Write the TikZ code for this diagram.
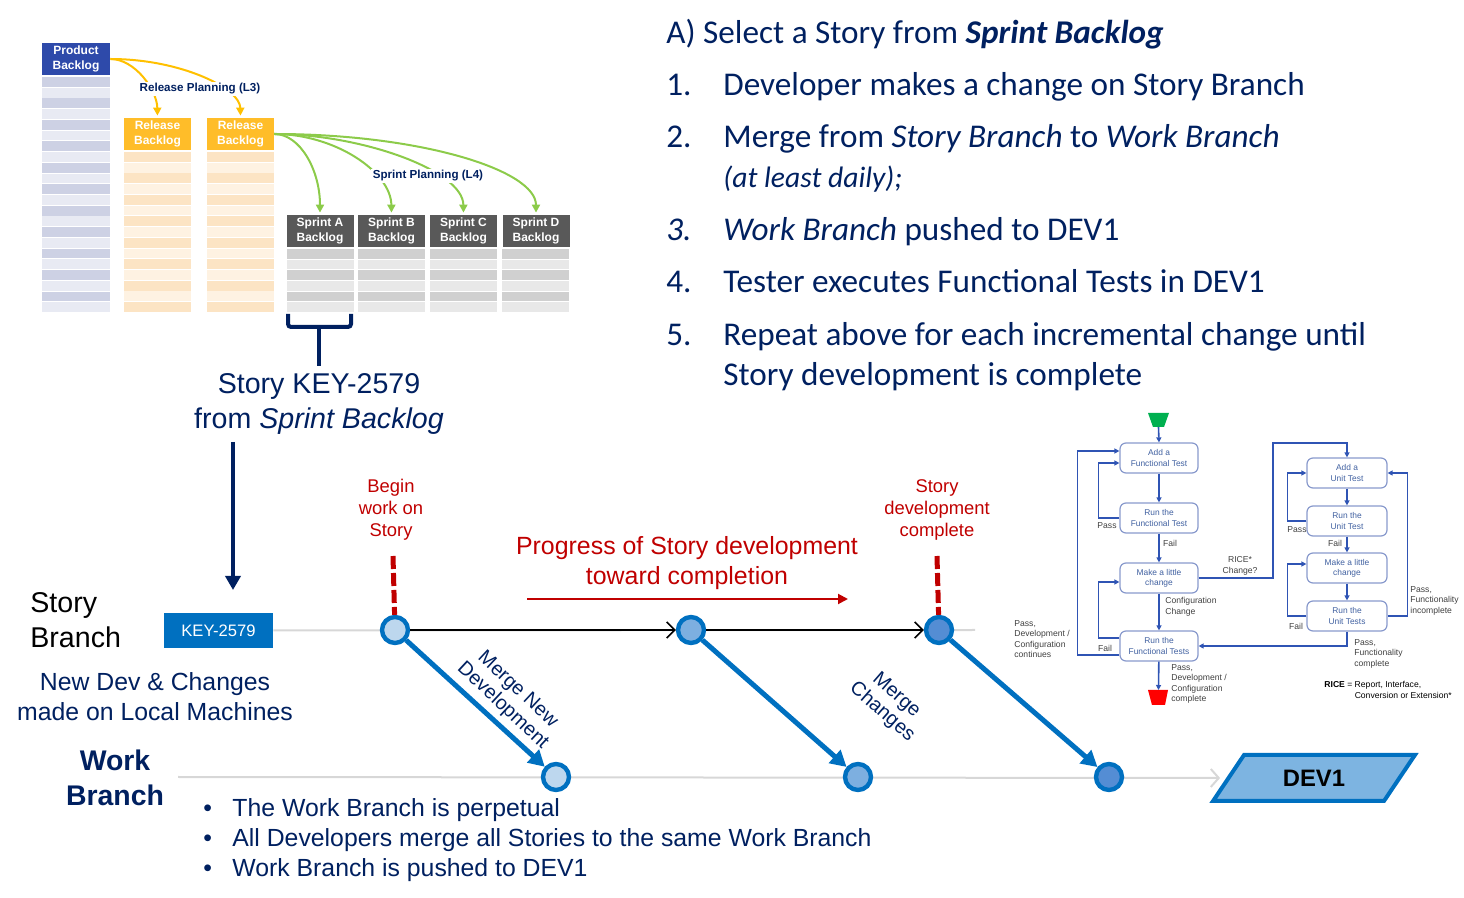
\documentclass[tikz,border=0pt]{standalone}
\usepackage{fontspec}
\setmainfont{Liberation Sans}
\newfontfamily\calibri{Carlito}
\usetikzlibrary{arrows.meta,calc,positioning,shapes.geometric}

\definecolor{navy}{RGB}{0,32,96}
\definecolor{darkred}{RGB}{192,0,0}
\definecolor{midblue}{RGB}{0,112,192}
\definecolor{pbblue}{RGB}{46,74,170}
\definecolor{pbdark}{RGB}{205,209,228}
\definecolor{pblight}{RGB}{232,234,243}
\definecolor{rbgold}{RGB}{255,189,41}
\definecolor{rbdark}{RGB}{252,228,196}
\definecolor{rblight}{RGB}{254,242,226}
\definecolor{sbgray}{RGB}{89,89,89}
\definecolor{sbdark}{RGB}{208,208,208}
\definecolor{sblight}{RGB}{232,232,232}
\definecolor{planyellow}{RGB}{255,192,0}
\definecolor{plangreen}{RGB}{140,203,74}
\definecolor{branchgray}{RGB}{215,215,215}
\definecolor{cone}{RGB}{189,215,238}
\definecolor{ctwo}{RGB}{125,175,224}
\definecolor{cthree}{RGB}{84,141,212}
\definecolor{devfill}{RGB}{125,180,225}
\definecolor{flowblue}{RGB}{47,84,180}
\definecolor{flowedge}{RGB}{136,153,204}
\definecolor{flowtext}{RGB}{64,96,160}
\definecolor{labelgray}{RGB}{64,64,64}
\definecolor{startgreen}{RGB}{0,176,80}

\newcommand{\fsz}[2]{\fontsize{#1}{#2}\selectfont}

\tikzset{
  backloghead/.style={minimum width=33.5pt, minimum height=16pt, inner sep=0pt,
    text=white, align=center, font=\fsz{6}{7.4}\bfseries},
  planlabel/.style={fill=white, inner sep=1pt, text=navy, font=\fsz{5.8}{6}\bfseries},
  planarrow/.style={line width=1pt, shorten >=1pt, -{Triangle[length=4pt,width=4pt]}},
  commit/.style={circle, draw=midblue, line width=2.2pt, minimum size=13pt, inner sep=0pt},
  mergearrow/.style={midblue, line width=2.5pt, -{Triangle[length=8pt,width=8.5pt]}},
  steparrow/.style={black, line width=0.8pt, -{Straight Barb[length=4pt,width=8pt]}},
  branchline/.style={branchgray, line width=1pt},
  reddash/.style={darkred, line width=2.5pt, dash pattern=on 6.5pt off 2pt},
  redlabel/.style={text=darkred, align=center, font=\fsz{9.2}{11}},
  mergelabel/.style={text=navy, align=center, font=\fsz{9.9}{11}},
  stepline/.style={anchor=base west, inner sep=0pt, text=navy, font=\calibri\fsz{16.6}{18}},
  flowbox/.style={rectangle, rounded corners=3pt, draw=flowedge, line width=0.6pt,
    minimum width=39pt, minimum height=15pt, inner sep=0pt, text=flowtext,
    align=center, font=\fsz{4.2}{5.1}},
  flowarrow/.style={flowblue, line width=0.8pt, -{Triangle[length=2.5pt,width=2.5pt]}},
  flowlabel/.style={text=labelgray, align=left, inner sep=0pt, font=\fsz{4.3}{5.25}},
}

\begin{document}
\begin{tikzpicture}[x=0.5pt, y=-0.5pt]
  \useasboundingbox (0,0) rectangle (1464,898);

  % Product backlog
  \node[backloghead, fill=pbblue, minimum width=34pt] (pb) at (76,59) {Product\\Backlog};
  \foreach \i in {0,...,21} {
    \pgfmathsetmacro{\yy}{77+\i*10.73}
    \pgfmathtruncatemacro{\odd}{mod(\i,2)}
    \ifnum\odd=0 \def\col{pbdark}\else\def\col{pblight}\fi
    \fill[\col] (42,\yy) rectangle (110,\yy+9.8);
  }

  % Release backlogs
  \node[backloghead, fill=rbgold] (rb1) at (157.5,134) {Release\\Backlog};
  \node[backloghead, fill=rbgold] (rb2) at (240.5,134) {Release\\Backlog};
  \foreach \x in {124,207} {
    \foreach \i in {0,...,14} {
      \pgfmathsetmacro{\yy}{152+\i*10.73}
      \pgfmathtruncatemacro{\odd}{mod(\i,2)}
      \ifnum\odd=0 \def\col{rbdark}\else\def\col{rblight}\fi
      \fill[\col] (\x,\yy) rectangle (\x+67,\yy+9.8);
    }
  }

  % Sprint backlogs
  \node[backloghead, fill=sbgray] (sba) at (320,231) {Sprint A\\Backlog};
  \node[backloghead, fill=sbgray] (sbb) at (391.5,231) {Sprint B\\Backlog};
  \node[backloghead, fill=sbgray] (sbc) at (463.5,231) {Sprint C\\Backlog};
  \node[backloghead, fill=sbgray] (sbd) at (536,231) {Sprint D\\Backlog};
  \foreach \x in {287,358,430,502} {
    \foreach \i in {0,...,5} {
      \pgfmathsetmacro{\yy}{249+\i*10.67}
      \pgfmathtruncatemacro{\odd}{mod(\i,2)}
      \ifnum\odd=0 \def\col{sbdark}\else\def\col{sblight}\fi
      \fill[\col] (\x,\yy) rectangle (\x+67,\yy+9.8);
    }
  }

  % Release planning (L3)
  \draw[planarrow, planyellow] (pb.east) .. controls (135,59) and (157,90) .. (rb1.north);
  \draw[planarrow, planyellow] (pb.east) .. controls (180,59) and (240,88) .. (rb2.north);
  \node[planlabel] (rplan) at (200,89) {Release Planning (L3)};

  % Sprint planning (L4)
  \draw[planarrow, plangreen] (rb2.east) .. controls (300,134) and (320,170) .. (sba.north);
  \draw[planarrow, plangreen] (rb2.east) .. controls (335,134) and (391,172) .. (sbb.north);
  \draw[planarrow, plangreen] (rb2.east) .. controls (360,134) and (463,170) .. (sbc.north);
  \draw[planarrow, plangreen] (rb2.east) .. controls (420,134) and (536,170) .. (sbd.north);
  \node[planlabel] (splan) at (428,176) {Sprint Planning (L4)};

  % Selected story
  \node[text=navy, align=center, font=\fsz{14.3}{17.5}] (story) at (319,403.5)
    {Story KEY-2579\\from \textit{Sprint Backlog}};
  \draw[navy, line width=2pt, rounded corners=1.5pt] (288,314) -- (288,327) -- (351,327) -- (351,314);
  \coordinate (bracetip) at (319,327);
  \draw[navy, line width=2pt] (bracetip) -- (story.north);
  \coordinate (storyout) at (233,442);
  \coordinate (keyin) at (233,590);
  \draw[navy, line width=2pt, -{Triangle[length=7pt,width=7.5pt]}] (storyout) -- (keyin);

  % Branch labels
  \node[anchor=west, align=left, inner sep=0pt, font=\fsz{14.3}{17.5}] (sblabel) at (30,620) {Story\\Branch};
  \node[text=navy, align=center, font=\fsz{12.4}{15}] (localdev) at (155,697)
    {New Dev \& Changes\\made on Local Machines};
  \node[text=navy, align=center, font=\fsz{14.2}{17.5}\bfseries] (wblabel) at (115,778) {Work\\Branch};
  \node[fill=midblue, text=white, minimum width=54.5pt, minimum height=17.5pt, inner sep=0pt,
    font=\fsz{8.3}{10}] (keybox) at (218.5,630.5) {KEY-2579};

  % DEV1
  \node[trapezium, trapezium left angle=50, trapezium right angle=130, trapezium stretches=true,
    draw=midblue, fill=devfill, line width=2pt, minimum width=101pt, minimum height=23pt,
    inner sep=0pt, font=\fsz{11.9}{12}\bfseries] (dev) at (1314,778) {DEV1};

  % Branch lines
  \coordinate (sbend) at (975,630);
  \coordinate (wbstart) at (178,777);
  \draw[branchline] (keybox.east) -- (sbend);
  \draw[branchline, shorten >=3pt, -{Straight Barb[length=4pt,width=9pt]}] (wbstart) -- (dev.west);

  % Commits
  \node[commit, fill=cone] (s1) at (395,630) {};
  \node[commit, fill=ctwo] (s2) at (691,630) {};
  \node[commit, fill=cthree] (s3) at (939,630) {};
  \node[commit, fill=cone] (w1) at (556,777) {};
  \node[commit, fill=ctwo] (w2) at (858,777) {};
  \node[commit, fill=cthree] (w3) at (1109,777) {};
  \draw[steparrow] (s1) -- (s2);
  \draw[steparrow] (s2) -- (s3);
  \draw[mergearrow] (s1) -- (w1);
  \draw[mergearrow] (s2) -- (w2);
  \draw[mergearrow] (s3) -- (w3);
  \node[mergelabel, rotate=-43] (mnew) at (510,698) {Merge New\\Development};
  \node[mergelabel, rotate=-41] (mchg) at (889,704) {Merge\\Changes};

  % Story start and end markers
  \node[redlabel] (begin) at (391,510) {Begin\\work on\\Story};
  \node[redlabel] (done) at (937,510) {Story\\development\\complete};
  \coordinate (d1) at (393,556);
  \coordinate (d2) at (937,556);
  \draw[reddash] (d1) -- (s1);
  \draw[reddash] (d2) -- (s3);
  \node[text=darkred, align=center, font=\fsz{12.45}{15}] (progress) at (687,563)
    {Progress of Story development\\toward completion};
  \coordinate (pstart) at (527,599);
  \coordinate (pend) at (848,599);
  \draw[darkred, line width=1pt, -{Triangle[length=5pt,width=5pt]}] (pstart) -- (pend);

  % Work branch notes
  \node[anchor=west, align=left, inner sep=0pt, text=navy, font=\fsz{12.4}{15}] (notes) at (203,840)
    {\makebox[14.5pt][l]{\textbullet}The Work Branch is perpetual\\
     \makebox[14.5pt][l]{\textbullet}All Developers merge all Stories to the same Work Branch\\
     \makebox[14.5pt][l]{\textbullet}Work Branch is pushed to DEV1};

  % Steps
  \node[stepline] (stepa) at (666,44) {A) Select a Story from \textbf{\textit{Sprint Backlog}}};
  \node[stepline] (step1) at (666,96) {\makebox[28.5pt][l]{1.}Developer makes a change on Story Branch};
  \node[stepline] (step2) at (666,148) {\makebox[28.5pt][l]{2.}Merge from \textit{Story Branch} to \textit{Work Branch}};
  \node[stepline, font=\calibri\fsz{14.8}{17}] (step2b) at (723,188) {\textit{(at least daily);}};
  \node[stepline] (step3) at (666,241) {\makebox[28.5pt][l]{\textit{3.}}\textit{Work Branch} pushed to DEV1};
  \node[stepline] (step4) at (666,293) {\makebox[28.5pt][l]{4.}Tester executes Functional Tests in DEV1};
  \node[stepline] (step5) at (666,346) {\makebox[28.5pt][l]{5.}Repeat above for each incremental change until};
  \node[stepline] (step5b) at (723,386) {Story development is complete};

  % Functional test loop
  \fill[startgreen] (1148,413) -- (1169,413) -- (1164,427) -- (1153,427) -- cycle;
  \coordinate (fstart) at (1158.5,427);
  \fill[red] (1148,690) -- (1168,690) -- (1165,705) -- (1152,705) -- cycle;
  \coordinate (fend) at (1158.5,690);
  \node[flowbox] (af1) at (1159,458) {Add a\\Functional Test};
  \node[flowbox] (rf1) at (1159,518) {Run the\\Functional Test};
  \node[flowbox] (mc1) at (1159,578) {Make a little\\change};
  \node[flowbox] (rfs) at (1159,646) {Run the\\Functional Tests};
  \draw[flowarrow] (fstart) -- (af1.north);
  \draw[flowarrow] (af1) -- (rf1);
  \draw[flowarrow] (rf1) -- (mc1);
  \draw[flowarrow] (mc1) -- (rfs);
  \draw[flowarrow] (rfs) -- (fend);
  \draw[flowarrow] (rf1.west) -- ++(-21,0) |- ($(af1.west)+(0,5)$);
  \draw[flowarrow] ($(rfs.west)+(0,9)$) -- ++(-42,0) |- ($(af1.west)+(0,-7)$);
  \draw[flowarrow] ($(rfs.west)+(0,-8)$) -- ++(-21,0) |- ($(mc1.west)+(0,4)$);

  % Unit test loop
  \node[flowbox, minimum width=40pt] (au) at (1347,473) {Add a\\Unit Test};
  \node[flowbox, minimum width=40pt] (ru) at (1347,521) {Run the\\Unit Test};
  \node[flowbox, minimum width=40pt] (mu) at (1347,568) {Make a little\\change};
  \node[flowbox, minimum width=40pt] (rus) at (1347,616) {Run the\\Unit Tests};
  \coordinate (rice) at (1273,443);
  \draw[flowarrow] (mc1.east) -| (rice) -| (au.north);
  \draw[flowarrow] (au) -- (ru);
  \draw[flowarrow] (ru) -- (mu);
  \draw[flowarrow] (mu) -- (rus);
  \draw[flowarrow] (ru.west) -- ++(-19,0) |- (au.west);
  \draw[flowarrow] (rus.west) -- ++(-19,0) |- ($(mu.west)+(0,-4)$);
  \draw[flowarrow] (rus.east) -- ++(20,0) |- (au.east);
  \draw[flowarrow] (rus.south) |- (rfs.east);

  % Flow labels
  \node[flowlabel] (lpass1) at (1107,526) {Pass};
  \node[flowlabel] (lfail1) at (1170,543) {Fail};
  \node[flowlabel, anchor=north west] (lconf) at (1165,597) {Configuration\\Change};
  \node[flowlabel] (lfail2) at (1105,648) {Fail};
  \node[flowlabel, anchor=north west] (lcont) at (1014,620) {Pass,\\Development /\\Configuration\\continues};
  \node[flowlabel, anchor=north west] (ldone) at (1171,664) {Pass,\\Development /\\Configuration\\complete};
  \node[flowlabel, align=center] (lrice) at (1240,566) {RICE*\\Change?};
  \node[flowlabel] (lpass2) at (1297,530) {Pass};
  \node[flowlabel] (lfail3) at (1335,543) {Fail};
  \node[flowlabel] (lfail4) at (1296,626) {Fail};
  \node[flowlabel, anchor=north west] (lincomp) at (1410,586) {Pass,\\Functionality\\incomplete};
  \node[flowlabel, anchor=north west] (lcomp) at (1354,639) {Pass,\\Functionality\\complete};
  \node[flowlabel, anchor=north west, text=black] (lricedef) at (1324,681)
    {\textbf{RICE} = Report, Interface,\\\phantom{\textbf{RICE} = }Conversion or Extension*};
\end{tikzpicture}
\end{document}
